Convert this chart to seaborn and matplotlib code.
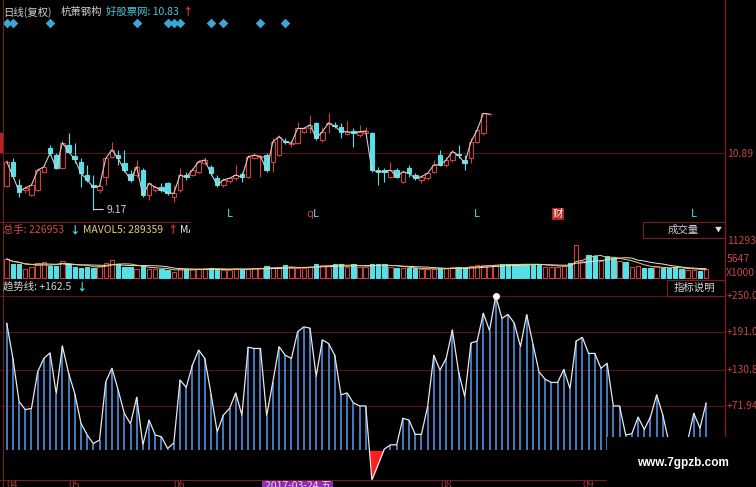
import numpy as np
import pandas as pd
import matplotlib
matplotlib.use("Agg")
import matplotlib.pyplot as plt
import matplotlib.transforms as mtransforms
from matplotlib.patches import Rectangle
import seaborn as sns

sns.set_style("dark", {"axes.facecolor": "black", "figure.facecolor": "black"})
plt.rcParams["font.family"] = ["Noto Sans CJK SC", "DejaVu Sans"]

# ---- daily prices (yuan) ----
opens = [9.89, 10.64, 9.92, 9.77, 9.62, 9.77, 10.33, 11.05, 10.84, 10.44,
         11.15, 10.81, 10.64, 10.23, 9.92, 9.77, 10.18, 10.79, 10.84, 10.59,
         10.26, 10.23, 10.38, 9.62, 9.77, 9.85, 9.99, 9.56, 9.77, 10.23,
         10.23, 10.33, 10.59, 10.48, 10.15, 9.92, 10.05, 10.13, 10.26, 10.18,
         10.75, 10.77, 10.84, 10.64, 10.84, 11.27, 11.18, 11.20, 11.56, 11.66,
         11.82, 11.30, 11.80, 11.78, 11.71, 11.48, 11.59, 11.46, 11.51, 11.51,
         10.38, 10.38, 10.18, 10.38, 10.02, 10.44, 10.23, 10.08, 10.13, 10.33,
         10.84, 10.54, 10.69, 10.86, 10.69, 10.75, 11.25, 11.51, 12.09]
closes = [10.64, 10.20, 9.72, 9.83, 9.92, 10.38, 10.48, 10.90, 10.44, 11.22,
          10.95, 10.71, 10.28, 10.08, 9.85, 9.89, 10.74, 11.00, 10.74, 10.38,
          10.08, 10.48, 9.62, 9.97, 9.85, 9.77, 9.67, 9.67, 10.23, 10.16,
          10.38, 10.64, 10.69, 10.28, 9.92, 10.08, 10.13, 10.23, 10.16, 10.79,
          10.84, 10.80, 10.38, 11.25, 11.41, 11.24, 11.21, 11.66, 11.66, 11.77,
          11.36, 11.56, 11.83, 11.73, 11.56, 11.56, 11.53, 11.56, 11.58, 10.38,
          10.33, 10.33, 10.38, 10.18, 10.33, 10.28, 10.13, 10.18, 10.28, 10.54,
          10.54, 10.69, 10.95, 10.83, 10.59, 11.25, 11.61, 12.12, 12.10]
highs = [10.69, 10.74, 10.10, 9.89, 9.98, 10.44, 10.54, 11.15, 10.91, 11.27,
         11.51, 11.20, 10.74, 10.54, 10.23, 9.95, 10.79, 11.25, 11.00, 11.00,
         10.38, 10.69, 10.44, 10.02, 9.92, 9.97, 10.02, 9.92, 10.44, 10.33,
         10.44, 10.69, 10.79, 10.54, 10.23, 10.13, 10.18, 10.54, 10.33, 10.84,
         10.91, 10.84, 10.90, 11.37, 11.46, 11.37, 11.30, 11.87, 11.71, 12.07,
         11.87, 11.71, 12.12, 11.87, 11.82, 11.90, 11.66, 11.77, 11.71, 11.56,
         10.48, 10.44, 10.64, 10.44, 10.38, 10.54, 10.28, 10.23, 10.33, 10.69,
         11.00, 10.79, 11.00, 11.15, 10.84, 11.37, 11.70, 12.13, 12.13]
lows = [9.86, 10.13, 9.56, 9.68, 9.59, 9.74, 10.29, 10.84, 10.41, 10.41,
        10.90, 10.59, 9.87, 10.02, 9.17, 9.67, 9.92, 10.74, 10.54, 10.33,
        10.02, 10.18, 9.56, 9.46, 9.72, 9.72, 9.62, 9.41, 9.72, 10.08,
        10.20, 10.28, 10.54, 10.23, 9.87, 9.87, 9.97, 10.08, 10.02, 10.13,
        10.72, 10.18, 10.33, 10.33, 10.81, 11.18, 11.10, 11.18, 11.51, 11.51,
        11.30, 11.25, 11.51, 11.66, 11.36, 11.46, 11.10, 11.41, 11.46, 10.33,
        9.92, 10.02, 10.13, 10.13, 9.97, 10.18, 10.08, 9.97, 10.08, 10.28,
        10.51, 10.48, 10.64, 10.74, 10.38, 10.60, 11.21, 11.46, 12.07]

# ---- volume (x1000 lots) ----
volume = [5770, 4250, 4250, 2730, 3460, 4460, 4770, 3760, 3760, 5280,
          4250, 3460, 3040, 3250, 3040, 3760, 4460, 5470, 4250, 3460,
          3460, 2730, 3760, 2730, 2730, 2730, 2250, 1730, 2730, 2730,
          2730, 2730, 2730, 3040, 2730, 2430, 2430, 2730, 2730, 2730,
          3040, 2880, 3640, 3040, 3040, 3800, 3040, 3040, 3040, 3340,
          4100, 3800, 3800, 4100, 4100, 3340, 4100, 3190, 3340, 4100,
          4100, 4100, 3340, 3040, 2880, 2880, 3040, 2580, 2580, 2580,
          3040, 3040, 3190, 3190, 3040, 3640, 3800, 3950, 3950, 3950,
          4130, 4130, 4130, 4130, 4130, 4130, 4130, 3340, 3340, 3340,
          3640, 4550, 10020, 5160, 6980, 6680, 5160, 6680, 6070, 5160,
          4860, 3340, 3640, 2910, 2910, 3640, 2910, 2910, 3340, 2730,
          2430, 2430, 2130, 2580]
# up/down flags for the sessions after the last drawn candle
vol_up_tail = [1, 0, 0, 0, 0, 0, 0, 0, 1, 1, 1, 1, 0, 1, 1, 0, 0, 1,
               0, 0, 1, 0, 1, 1, 0, 0, 1, 0, 0, 0, 0, 1, 1, 0, 1]

# ---- trend-line indicator ----
trend = [206, 149, 79, 66, 68, 127, 149, 158, 92, 169,
         125, 92, 44, 25, 11, 17, 111, 133, 98, 60,
         43, 86, 9, 49, 25, 22, 3, 12, 114, 102,
         138, 162.5, 149, 92, 30, 57, 68, 93, 57, 167,
         165, 165, 56, 111, 168, 154, 149, 192, 200, 198,
         120, 179, 173, 154, 90, 93, 77, 72, 72, -48,
         -23, 2, 9, 9, 52, 49, 26, 26, 71, 154,
         130, 149, 195, 127, 87, 174, 177, 222, 194, 250.0,
         214, 220, 206, 168, 220, 173, 127, 115, 110, 110,
         131, 100, 177, 183, 157, 157, 133, 141, 72, 72,
         25, 27, 54, 34, 54, 90, 57, 12, 4, 7,
         15, 60, 36, 77]
trend_ticks = [250.0, 191.0, 130.8, 71.94]

signal_days = [0, 1, 7, 21, 26, 27, 28, 33, 35, 41, 45]
month_pos = [0, 10, 27, 70, 93]
month_labels = ["04", "05", "06", "08", "09"]

# ---- colours ----
BG = "black"
UP = "#d0403c"
DN = "#56dfe6"
GRID = "#5a1212"
AXIS = "#7c1c1c"
LBL = "#c84444"
TXT = "#d2d2d2"

W, H = 756, 487
fig = plt.figure(figsize=(W / 100, H / 100), dpi=100, facecolor=BG)


def panel(top, bottom):
    ax = fig.add_axes([0, 1 - bottom / H, 1, (bottom - top) / H])
    ax.set_facecolor(BG)
    return ax


x0, step = 6.7, 6.19
xlim = (-x0 / step, (W - x0) / step)
right_frac = 725 / W

n_c = len(closes)
idx_c = np.arange(n_c)
o = np.array(opens)
c = np.array(closes)
hi = np.array(highs)
lo = np.array(lows)
up = c >= o

# ================= price panel =================
axp = panel(0, 221)
axp.axhline(10.89, xmin=0, xmax=right_frac, color=GRID, lw=0.8, zorder=0)
axp.vlines(idx_c, lo, hi, colors=np.where(up, UP, DN), lw=0.8, zorder=2)
body_h = np.maximum(np.abs(c - o), 0.012)
axp.bar(idx_c, body_h, bottom=np.minimum(o, c), width=0.74,
        color=np.where(up, BG, DN), edgecolor=np.where(up, UP, DN),
        linewidth=0.8, zorder=3)
sns.lineplot(x=idx_c, y=c, ax=axp, color="#cfcfcf", lw=0.8, zorder=4,
             sort=False, estimator=None)
blend_p = mtransforms.blended_transform_factory(axp.transData, axp.transAxes)
axp.scatter(signal_days, [0.898] * len(signal_days), marker="D", s=24,
            color="#3ea6d6", transform=blend_p, zorder=5, linewidths=0)
imin = int(np.argmin(lo))
axp.annotate(f"{lo[imin]:.2f}", xy=(imin, lo[imin]), xytext=(9.5, 0),
             textcoords="offset points", va="center", ha="left",
             color=TXT, fontsize=7.5,
             arrowprops=dict(arrowstyle="-", color=TXT, lw=0.8,
                             shrinkA=0, shrinkB=0))
for xi, s, col in [(36, "L", DN), (49, "q", UP), (50, "L", DN),
                   (76, "L", DN), (111, "L", DN)]:
    axp.text(xi, 0.032, s, transform=blend_p, color=col, fontsize=8,
             ha="center", va="center")
axp.text(89, 0.032, "财", transform=blend_p, color="white", fontsize=7.5,
         ha="center", va="center",
         bbox=dict(facecolor="#b82020", edgecolor="none", pad=0.6))
axp.set_xlim(*xlim)
axp.set_ylim(8.817, 15.604)
axp.set_axis_off()

# ================= volume panel =================
axv = panel(221, 279)
n_v = len(volume)
idx_v = np.arange(n_v)
vol_up = np.concatenate([up, np.array(vol_up_tail, dtype=bool)])
axv.bar(idx_v, volume, width=0.72, color=np.where(vol_up, BG, DN),
        edgecolor=np.where(vol_up, UP, DN), linewidth=0.8, zorder=2)
vs = pd.Series(volume, dtype=float)
sns.lineplot(x=idx_v, y=vs.rolling(10, min_periods=1).mean().values, ax=axv,
             color="#e6e6e6", lw=0.7, zorder=3, sort=False, estimator=None)
sns.lineplot(x=idx_v, y=vs.rolling(5, min_periods=1).mean().values, ax=axv,
             color="#e2cf72", lw=0.7, zorder=3, sort=False, estimator=None)
axv.set_xlim(*xlim)
axv.set_ylim(-334, 17275)
axv.set_axis_off()

# ================= trend indicator panel =================
axi = panel(279, 487)
tr = np.array(trend, dtype=float)
idx_t = np.arange(len(tr))
for v in trend_ticks:
    axi.axhline(v, xmin=0, xmax=right_frac, color=GRID, lw=0.8, zorder=0)
pos = tr > 0
axi.vlines(idx_t[pos], 0, tr[pos], colors="#4a84cf", lw=1.3, zorder=2)
axi.fill_between(idx_t, tr, 0, where=tr < 0, interpolate=True,
                 color="#ff1e1e", lw=0, zorder=2)
sns.lineplot(x=idx_t, y=tr, ax=axi, color="#e8e8e8", lw=0.9, zorder=3,
             sort=False, estimator=None)
imax = int(np.argmax(tr))
axi.plot([imax], [tr[imax]], marker="o", ms=4, color="white", zorder=4)
blend_i = mtransforms.blended_transform_factory(axi.transData, axi.transAxes)
for xi, s in zip(month_pos, month_labels):
    axi.text(xi, 0.035, s, transform=blend_i, color="#9c3a3a", fontsize=7.5,
             ha="left", va="top")
axi.set_xlim(*xlim)
axi.set_ylim(-59.26, 277.5)
axi.set_axis_off()

# ================= frame, headers and labels =================
ov = fig.add_axes([0, 0, 1, 1], zorder=10)
ov.set_xlim(0, W)
ov.set_ylim(H, 0)
ov.set_axis_off()
ov.patch.set_alpha(0)

ov.plot([2.5, 2.5], [0, H], color=AXIS, lw=0.8)
ov.plot([725, 725], [0, H], color=AXIS, lw=1.0)
ov.plot([0, 725], [480, 480], color=AXIS, lw=0.8)
ov.plot([0, 190], [221.5, 221.5], color=AXIS, lw=0.8)
ov.add_patch(Rectangle((0, 133), 2.5, 20, color="#c02020", lw=0))


def put(x, y, s, col, size=7.5, **kw):
    return ov.text(x, y, s, color=col, fontsize=size, ha="left",
                   va="center", **kw)


put(3, 12, "日线(复权)", TXT)
put(61, 12, "杭萧钢构", TXT)
put(106, 12, "好股票网: 10.83", "#4cc6d6")
put(182, 12, "↑", "#e03030", fontweight="bold")

put(3, 230, "总手: 226953", "#d24848")
put(69, 230, "↓", DN, fontweight="bold")
put(83, 230, "MAVOL5: 289359", "#e0cf70")
put(167, 230, "↑", "#e03030", fontweight="bold")
ma_txt = put(180, 230, "MA10: 3", "#e6e6e6")
ma_txt.set_clip_path(Rectangle((0, 221), 190, 16, transform=ov.transData))
ma_txt.set_clip_on(True)

put(3, 287, "趋势线: +162.5", TXT)
put(76, 287, "↓", DN, fontweight="bold")

# volume selector and indicator help boxes
ov.add_patch(Rectangle((643, 222), 82, 16, fill=False, edgecolor=AXIS, lw=0.8))
put(668, 230, "成交量", "#cfcfcf")
put(715, 229.5, "▼", "#dddddd", size=5)
ov.add_patch(Rectangle((667, 280), 58, 16, fill=False, edgecolor=AXIS, lw=0.8))
put(674, 288, "指标说明", "#d6d6d6")

# right-side scale labels
put(727, 154, "10.89", LBL)
put(727, 240.5, "11293", LBL)
put(727, 259, "5647", LBL)
put(726, 272.5, "X1000", LBL)
for v in trend_ticks:
    yv = 450.4 - 0.6176 * v
    put(727, yv, f"+{v:.1f}" if v > 100 else f"+{v:.2f}", LBL)

# cursor date box
ov.add_patch(Rectangle((262, 480.5), 71, 8, color="#8e2cb4", lw=0))
ov.text(265, 481.0, "2017-03-24 五", color="#eccdf6", fontsize=7.5,
        ha="left", va="top")

# watermark block
ov.add_patch(Rectangle((607, 437), W - 607, H - 437, color="black", lw=0,
                       zorder=20))
ov.text(637, 463, "www.7gpzb.com", color="white", fontsize=8.5,
        fontweight="bold", family="Liberation Sans", ha="left",
        va="center", zorder=21)

fig.savefig("out.png", dpi=100, facecolor=BG)
